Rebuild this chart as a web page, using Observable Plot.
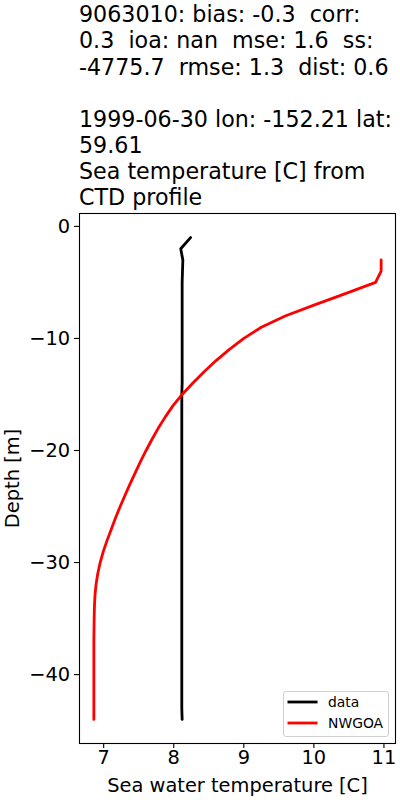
<!DOCTYPE html>
<html>
<head>
<meta charset="utf-8">
<script src="https://cdn.jsdelivr.net/npm/d3@7"></script>
<script src="https://cdn.jsdelivr.net/npm/@observablehq/plot@0.6"></script>
<style>
  html, body { margin: 0; padding: 0; background: white; }
  #wrap { position: relative; width: 400px; height: 800px; overflow: hidden; font-family: "DejaVu Sans", sans-serif; }
  #title { position: absolute; left: 79px; top: 1.3px; font-size: 22.2px; line-height: 26.15px; color: black; white-space: pre; z-index: 2; }
  #chart { position: absolute; left: 0; top: 205px; z-index: 1; }
  #legend { position: absolute; left: 283px; top: 691px; width: 104px; height: 44px; border: 1px solid #d0d0d0; border-radius: 3px; background: rgba(255,255,255,0.8); z-index: 3; font-size: 13.9px; }
  .entry { position: absolute; left: 0; height: 16px; }
  .entry svg { position: absolute; left: 3px; top: 0; }
  .entry span { position: absolute; left: 44px; top: 0; line-height: 16px; white-space: nowrap; }
</style>
</head>
<body>
<div id="wrap">
  <div id="title"></div>
  <div id="chart"></div>
  <div id="legend"></div>
</div>
<script>
// ---- data ----
const titleLines = [
  "9063010: bias: -0.3  corr:",
  "0.3  ioa: nan  mse: 1.6  ss:",
  "-4775.7  rmse: 1.3  dist: 0.6",
  "",
  "1999-06-30 lon: -152.21 lat:",
  "59.61",
  "Sea temperature [C] from",
  "CTD profile"
];
const xLabel = "Sea water temperature [C]";
const yLabel = "Depth [m]";
const seriesNames = ["data", "NWGOA"];
const seriesColors = ["black", "red"];

const obsDepth = [-1,-2,-3,-4,-5,-6,-7,-8,-9,-10,-11,-12,-13,-14,-15,-16,-17,-18,-19,-20,-21,-22,-23,-24,-25,-26,-27,-28,-29,-30,-31,-32,-33,-34,-35,-36,-37,-38,-39,-40,-41,-42,-43,-44];
const obsTemp  = [8.24,8.10,8.13,8.125,8.12,8.12,8.12,8.12,8.12,8.12,8.12,8.12,8.12,8.12,8.115,8.115,8.115,8.115,8.115,8.115,8.115,8.115,8.115,8.115,8.115,8.115,8.115,8.115,8.115,8.115,8.115,8.115,8.115,8.115,8.115,8.115,8.115,8.115,8.115,8.115,8.115,8.115,8.115,8.12];

const modDepth = [-3,-4,-5,-6,-7,-8,-9,-10,-11,-12,-13,-14,-15,-16,-17,-18,-19,-20,-21,-22,-23,-24,-25,-26,-27,-28,-29,-30,-31,-32,-33,-34,-35,-36,-37,-38,-39,-40,-41,-42,-43,-44];
const modTemp  = [10.96,10.96,10.88,10.45,10.01,9.59,9.25,9.00,8.79,8.60,8.43,8.27,8.12,7.99,7.88,7.78,7.69,7.605,7.525,7.45,7.375,7.305,7.235,7.17,7.11,7.05,6.995,6.95,6.915,6.89,6.875,6.868,6.864,6.862,6.86,6.86,6.86,6.86,6.86,6.86,6.86,6.86];

const xTicks = [7, 8, 9, 10, 11];
const yTicks = [0, -10, -20, -30, -40];

// ---- build ----
document.getElementById("title").textContent = titleLines.join("\n");

const obs = obsDepth.map((d, i) => ({depth: d, temp: obsTemp[i]}));
const mod = modDepth.map((d, i) => ({depth: d, temp: modTemp[i]}));

const allT = obsTemp.concat(modTemp), allD = obsDepth.concat(modDepth);
const pad = (lo, hi) => { const m = (hi - lo) * 0.05; return [lo - m, hi + m]; };
const xDom = pad(d3.min(allT), d3.max(allT));
const yDom = pad(d3.min(allD), d3.max(allD));

const chart = Plot.plot({
  width: 400,
  height: 595,
  marginTop: 8,
  marginBottom: 57,
  marginLeft: 79,
  marginRight: 5,
  style: {fontFamily: "DejaVu Sans, sans-serif", background: "transparent", color: "black"},
  x: {domain: xDom, axis: null},
  y: {domain: yDom, axis: null},
  marks: [
    Plot.line(obs, {x: "temp", y: "depth", stroke: seriesColors[0], strokeWidth: 2.8, curve: "linear"}),
    Plot.line(mod, {x: "temp", y: "depth", stroke: seriesColors[1], strokeWidth: 2.8, curve: "linear"}),
    Plot.frame({stroke: "black", strokeWidth: 1.1}),
    Plot.axisX({ticks: xTicks, tickSize: 5, tickPadding: 1.5, fontSize: 19.4, stroke: "black", strokeWidth: 1.1,
      label: xLabel, labelAnchor: "center", labelOffset: 48, labelArrow: "none", tickFormat: d => String(d)}),
    Plot.axisY({ticks: yTicks, tickSize: 5, tickPadding: 4.4, fontSize: 19.4, stroke: "black", strokeWidth: 1.1,
      label: yLabel, labelAnchor: "center", labelOffset: 74.5, labelArrow: "none", tickFormat: d => d < 0 ? "\u2212" + Math.abs(d) : String(d)})
  ]
});
chart.querySelectorAll("text").forEach(t => t.setAttribute("fill", "black"));
document.getElementById("chart").appendChild(chart);

// legend (HTML)
const leg = document.getElementById("legend");
seriesNames.forEach((name, i) => {
  const e = document.createElement("div");
  e.className = "entry";
  e.style.top = (2 + i * 20.5) + "px";
  e.style.width = "100%";
  e.innerHTML = `<svg width="32" height="16"><line x1="0.5" x2="30.5" y1="8" y2="8" stroke="${seriesColors[i]}" stroke-width="2.8"/></svg><span>${name}</span>`;
  leg.appendChild(e);
});
</script>
</body>
</html>
